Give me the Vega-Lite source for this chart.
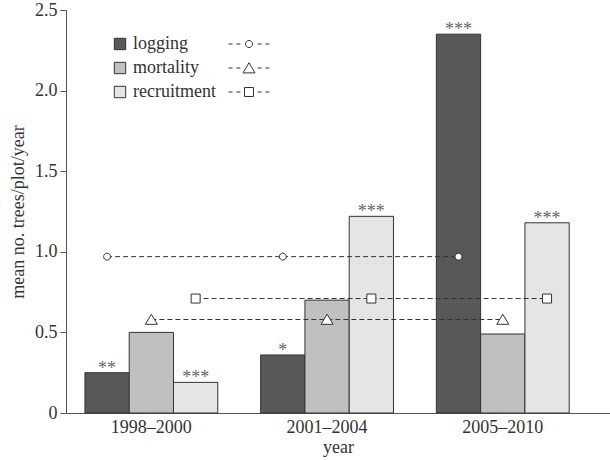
{
  "$schema": "https://vega.github.io/schema/vega-lite/v6.json",
  "autosize": {"type": "none"},
  "padding": {"left": 66, "top": 10, "right": 0, "bottom": 47},
  "width": 544,
  "height": 403,
  "background": "white",
  "config": {
    "font": "Liberation Serif",
    "view": {"stroke": null},
    "axis": {"labelFont": "Liberation Serif", "titleFont": "Liberation Serif", "labelFontSize": 18, "titleFontSize": 18, "labelColor": "#333", "titleColor": "#333", "titleFontWeight": "normal", "domainColor": "#555", "tickColor": "#555", "grid": false},
    "legend": {"labelFont": "Liberation Serif", "labelFontSize": 18, "labelColor": "#333"}
  },
  "data": {
    "values": [
      {"period": "1998–2000", "series": "logging", "value": 0.25, "mean": 0.97, "sig": "**"},
      {"period": "1998–2000", "series": "mortality", "value": 0.50, "mean": 0.58, "sig": ""},
      {"period": "1998–2000", "series": "recruitment", "value": 0.19, "mean": 0.71, "sig": "***"},
      {"period": "2001–2004", "series": "logging", "value": 0.36, "mean": 0.97, "sig": "*"},
      {"period": "2001–2004", "series": "mortality", "value": 0.70, "mean": 0.58, "sig": ""},
      {"period": "2001–2004", "series": "recruitment", "value": 1.22, "mean": 0.71, "sig": "***"},
      {"period": "2005–2010", "series": "logging", "value": 2.35, "mean": 0.97, "sig": "***"},
      {"period": "2005–2010", "series": "mortality", "value": 0.49, "mean": 0.58, "sig": ""},
      {"period": "2005–2010", "series": "recruitment", "value": 1.18, "mean": 0.71, "sig": "***"}
    ]
  },
  "encoding": {
    "x": {
      "field": "period", "type": "nominal", "title": "year",
      "scale": {"paddingInner": 0.244, "paddingOuter": 0.17, "align": 0.317},
      "axis": {"ticks": false, "labelAngle": 0, "labelPadding": 5, "titlePadding": 2}
    },
    "xOffset": {"field": "series", "type": "nominal", "scale": {"paddingInner": 0, "paddingOuter": 0}}
  },
  "layer": [
    {
      "mark": {"type": "bar", "stroke": "#333", "strokeWidth": 1},
      "encoding": {
        "y": {
          "field": "value", "type": "quantitative", "title": "mean no. trees/plot/year",
          "scale": {"domain": [0, 2.5], "nice": false},
          "axis": {"values": [0, 0.5, 1, 1.5, 2, 2.5], "labelExpr": "datum.value == 0 ? '0' : format(datum.value, '.1f')", "tickSize": 6, "labelPadding": 3, "titlePadding": 7}
        },
        "fill": {
          "field": "series", "type": "nominal",
          "scale": {"range": ["#58585a", "#c0c0c0", "#e5e5e5"]},
          "legend": {"orient": "none", "legendX": 45, "legendY": 25, "title": null, "padding": 0, "symbolType": "square", "symbolSize": 130, "symbolStrokeColor": "#333", "symbolStrokeWidth": 1, "rowPadding": 6, "labelOffset": 4}
        }
      }
    },
    {
      "mark": {"type": "text", "baseline": "alphabetic", "dy": 1, "fontSize": 18, "fill": "#666"},
      "encoding": {
        "y": {"field": "value", "type": "quantitative"},
        "text": {"field": "sig"}
      }
    },
    {
      "mark": {"type": "line", "strokeDash": [5, 3], "color": "#333", "strokeWidth": 1},
      "encoding": {
        "y": {"field": "mean", "type": "quantitative"},
        "detail": {"field": "series"}
      }
    },
    {
      "mark": {"type": "point", "filled": false, "fill": "white", "fillOpacity": 1, "stroke": "#333", "strokeWidth": 1, "opacity": 1, "size": 144},
      "encoding": {
        "y": {"field": "mean", "type": "quantitative"},
        "shape": {"field": "series", "type": "nominal", "scale": {"range": [
          "M-0.58,0A0.58,0.58 0 1,0 0.58,0A0.58,0.58 0 1,0 -0.58,0Z",
          "M-1,0.8L1,0.8L0,-0.88Z",
          "M-0.75,-0.75L0.75,-0.75L0.75,0.75L-0.75,0.75Z"
        ]}, "legend": null}
      }
    },
    {
      "mark": {"type": "point", "filled": false, "color": "#333", "opacity": 0},
      "encoding": {
        "y": {"field": "mean", "type": "quantitative"},
        "shape": {
          "field": "series", "type": "nominal",
          "scale": {"range": [
            "M-2.56,0L-2.05,0M-1.59,0L-1.08,0M-0.44,0A0.44,0.44 0 1,0 0.44,0A0.44,0.44 0 1,0 -0.44,0M1.08,0L1.59,0M2.05,0L2.56,0",
            "M-2.56,0L-2.05,0M-1.59,0L-1.08,0M-0.75,0.61L0.75,0.61L0,-0.66ZM1.08,0L1.59,0M2.05,0L2.56,0",
            "M-2.56,0L-2.05,0M-1.59,0L-1.08,0M-0.56,-0.56L0.56,-0.56L0.56,0.56L-0.56,0.56ZM1.08,0L1.59,0M2.05,0L2.56,0"
          ]},
          "legend": {"orient": "none", "legendX": 174, "legendY": 25, "title": null, "padding": 0, "symbolSize": 256, "symbolFillColor": "white", "symbolStrokeColor": "#333", "symbolStrokeWidth": 1, "symbolOpacity": 1, "labelExpr": "''", "rowPadding": 6}
        }
      }
    }
  ],
  "resolve": {"scale": {"shape": "independent"}, "legend": {"shape": "independent"}}
}
